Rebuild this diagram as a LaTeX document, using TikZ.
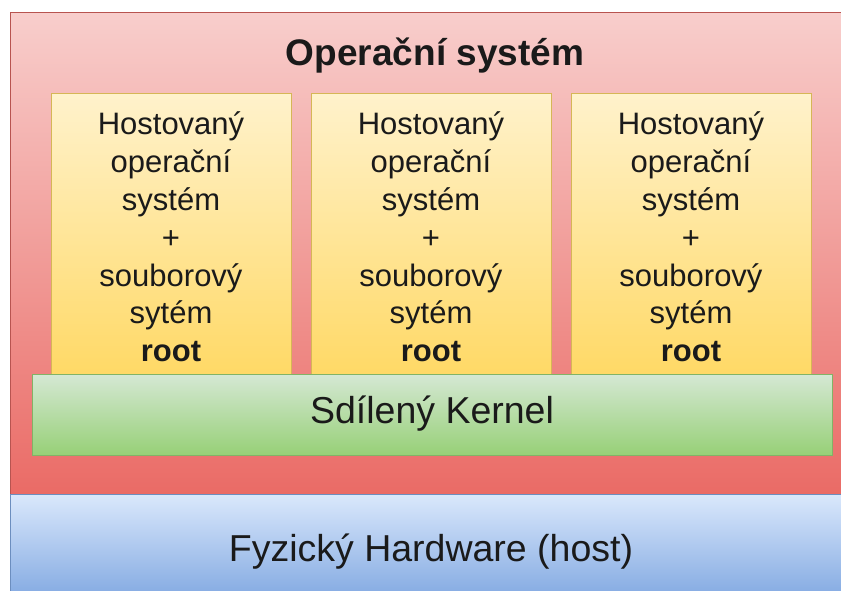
\documentclass[tikz,border=0pt]{standalone}
\usepackage{fontspec}
\setmainfont{Liberation Sans}
\definecolor{redtop}{HTML}{F8CECC}
\definecolor{redbot}{HTML}{EA6B66}
\definecolor{redline}{HTML}{B85450}
\definecolor{yeltop}{HTML}{FFF2CC}
\definecolor{yelbot}{HTML}{FFD966}
\definecolor{yelline}{HTML}{D6B656}
\definecolor{grntop}{HTML}{D5E8D4}
\definecolor{grnbot}{HTML}{97D077}
\definecolor{grnline}{HTML}{82B366}
\definecolor{blutop}{HTML}{DAE8FC}
\definecolor{blubot}{HTML}{7EA6E0}
\definecolor{bluline}{HTML}{6C8EBF}
\definecolor{ink}{HTML}{1A1A1A}
\tikzset{
  layer/.style={rectangle, inner sep=0pt, outer sep=0pt, line width=1pt,
    shading=axis, shading angle=0},
  osbox/.style={layer, draw=redline, top color=redtop, bottom color=redbot},
  guestbox/.style={layer, draw=yelline, top color=yeltop, bottom color=yelbot,
    minimum width=240pt, minimum height=281pt},
  kernelbox/.style={layer, draw=grnline, top color=grntop, bottom color=grnbot},
  hwbox/.style={layer, draw=bluline, top color=blutop, bottom color=blubot},
  label/.style={text=ink, inner sep=0pt, align=center},
  guestlabel/.style={label, font=\fontsize{31}{37.8}\selectfont},
  biglabel/.style={label, font=\fontsize{37.5}{45}\selectfont},
  titletext/.style={label, font=\fontsize{37}{44}\selectfont\bfseries}
}
\begin{document}
\begin{tikzpicture}[x=1pt, y=-1pt]
  % page area
  \fill[white] (0,0) rectangle (841,590);
  \useasboundingbox (0,0) rectangle (841,590);
  \clip (0,0) rectangle (841,590);

  % host operating system layer
  \node[osbox, minimum width=844pt, minimum height=482pt] (os) at (432,253) {};
  \node[titletext] (ostitle) at (435,56) {Operační systém};

  % guest systems
  \newcommand{\guesttext}{Hostovaný\\operační\\systém\\+\\souborový\\sytém\\\textbf{root}}
  \node[guestbox] (g1) at (171,233.5) {};
  \node[guestbox] (g2) at (431,233.5) {};
  \node[guestbox] (g3) at (691,233.5) {};
  \node[guestlabel] (g1text) at (171,237) {\guesttext};
  \node[guestlabel] (g2text) at (431,237) {\guesttext};
  \node[guestlabel] (g3text) at (691,237) {\guesttext};

  % shared kernel
  \node[kernelbox, minimum width=800pt, minimum height=81pt] (kernel) at (432,414.5) {};
  \node[biglabel] (kerneltext) at (432,414) {Sdílený Kernel};

  % physical hardware
  \node[hwbox, minimum width=844pt, minimum height=110pt] (hw) at (432,549) {};
  \node[biglabel] (hwlabel) at (431,552) {Fyzický Hardware (host)};
\end{tikzpicture}
\end{document}
